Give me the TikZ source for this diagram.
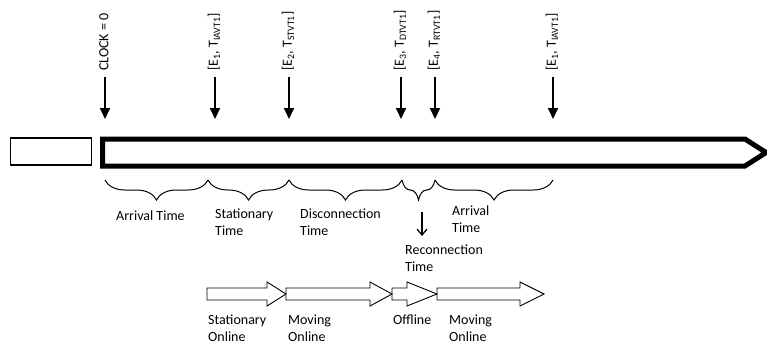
\documentclass[tikz,border=0pt]{standalone}
\usepackage{fontspec}
\setmainfont{Carlito}
\usetikzlibrary{arrows.meta,decorations.pathreplacing}

\tikzset{
  lbl/.style={font=\fontsize{14}{17}\selectfont, inner sep=0pt, align=left},
  evlbl/.style={font=\fontsize{14}{17}\selectfont, inner sep=0pt, rotate=90, anchor=west},
  evarrow/.style={line width=2pt, -{Triangle[width=10pt,length=11pt]}},
  timeline/.style={line width=5pt, line join=miter},
  bracket/.style={line width=1pt, decorate, decoration={brace,mirror,amplitude=20pt}},
  blockarrow/.style={line width=0.9pt, line join=miter},
  smallbox/.style={draw, line width=1.5pt, minimum width=81pt, minimum height=27pt, inner sep=0pt}
}
\newcommand{\tsub}[1]{\textsubscript{#1}}
% block arrow: start x, head start x, tip x
\newcommand{\flowarrow}[3]{%
  \draw[blockarrow] (#1,288) -- (#2,288) -- (#2,282) -- (#3,294) -- (#2,306) -- (#2,300) -- (#1,300) -- cycle;}

\begin{document}
\begin{tikzpicture}[x=1pt,y=-1pt]
\useasboundingbox (0,0) rectangle (767,351);

% empty box on the left
\node[smallbox] (start) at (51,151.5) {};

% thick timeline arrow
\draw[timeline] (102.5,139) -- (745,139) -- (766,152.5) -- (745,166) -- (102.5,166) -- cycle;

% event markers: label, then arrow down to the timeline
\foreach \n/\x/\t in {
  c/105/{CLOCK = 0},
  a/215/{[E\tsub{1}, T\tsub{IAVT1}]},
  b/289/{[E\tsub{2}, T\tsub{STVT1}]},
  d/401/{[E\tsub{3}, T\tsub{DTVT1}]},
  e/435/{[E\tsub{4}, T\tsub{RTVT1}]},
  f/553/{[E\tsub{1}, T\tsub{IAVT1}]}} {
  \node[evlbl] (lab\n) at (\x-1,71) {\t};
  \coordinate (top\n) at (\x,77);
  \coordinate (tip\n) at (\x,119);
  \draw[evarrow] (top\n) -- (tip\n);
}

% braces under the timeline
\coordinate (b0) at (105,180);
\coordinate (b1) at (208,180);
\coordinate (b2) at (289,180);
\coordinate (b3) at (402,180);
\coordinate (b4) at (435,180);
\coordinate (b5) at (553,180);
\draw[bracket] (b0) -- (b1);
\draw[bracket] (b1) -- (b2);
\draw[bracket] (b2) -- (b3);
\draw[bracket] (b3) -- (b4);
\draw[bracket] (b4) -- (b5);

% interval labels
\node[lbl, anchor=west] (arr1) at (116,216) {Arrival Time};
\node[lbl, anchor=north west] (stat) at (215,209) {Stationary\\Time};
\node[lbl, anchor=north west] (disc) at (300,209) {Disconnection\\Time};
\node[lbl, anchor=north west] (arr2) at (452,206) {Arrival\\Time};
\node[lbl, anchor=north west] (reco) at (405,245) {Reconnection\\Time};
\coordinate (rtop) at (422,212);
\coordinate (rbot) at (422,236);
\draw[line width=1.2pt, -{Straight Barb[length=6pt,width=10pt]}] (rtop) -- (rbot);

% state arrows
\flowarrow{207}{267}{286}
\flowarrow{286}{370}{392}
\flowarrow{392}{407}{437}
\flowarrow{437}{520}{544}

\node[lbl, anchor=north west] (s1) at (208,315) {Stationary\\Online};
\node[lbl, anchor=north west] (s2) at (288,315) {Moving\\Online};
\node[lbl, anchor=north west] (s3) at (393,315) {Offline};
\node[lbl, anchor=north west] (s4) at (449,315) {Moving\\Online};
\end{tikzpicture}
\end{document}
